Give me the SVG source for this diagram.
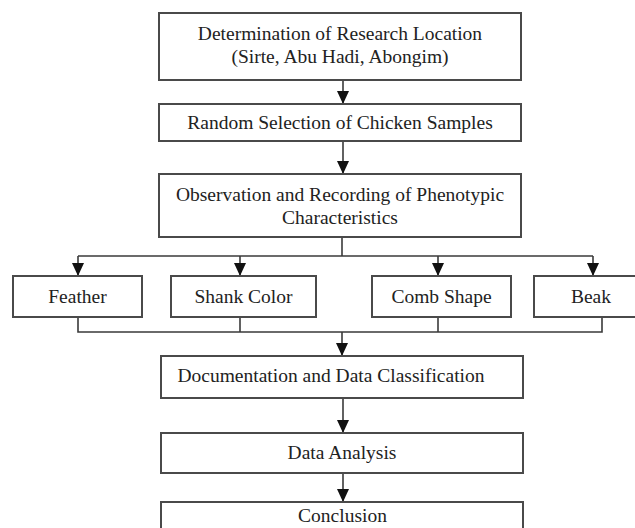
<svg xmlns="http://www.w3.org/2000/svg" width="635" height="528" viewBox="0 0 635 528">
<style>
.box{fill:#fff;stroke:#4a4a4a;stroke-width:2}
.t{font-family:"Liberation Serif","Times New Roman",serif;font-size:19.5px;fill:#222;text-anchor:middle}
.ln{fill:none;stroke:#3a3a3a;stroke-width:1.6}
.arr{marker-end:url(#ah)}
</style>
<defs>
<marker id="ah" markerUnits="userSpaceOnUse" markerWidth="13" markerHeight="12" viewBox="0 0 13 12" refX="13" refY="6" orient="auto">
<path d="M0,0 L13,6 L0,12 Z" fill="#111"/>
</marker>
</defs>
<rect width="635" height="528" fill="#fff"/>
<g id="connectors">
<line class="ln arr" x1="343" y1="80" x2="343" y2="104"/>
<line class="ln arr" x1="343" y1="141" x2="343" y2="174"/>
<line class="ln" x1="342" y1="237" x2="342" y2="256"/>
<polyline class="ln" points="78,256 593,256"/>
<line class="ln arr" x1="78" y1="256" x2="78" y2="276"/>
<line class="ln arr" x1="240" y1="256" x2="240" y2="276"/>
<line class="ln arr" x1="438" y1="256" x2="438" y2="276"/>
<line class="ln arr" x1="593" y1="256" x2="593" y2="276"/>
<polyline class="ln" points="78,317 78,332 602,332 602,317"/>
<line class="ln" x1="240" y1="317" x2="240" y2="332"/>
<line class="ln" x1="438" y1="317" x2="438" y2="332"/>
<line class="ln arr" x1="342" y1="332" x2="342" y2="356"/>
<line class="ln arr" x1="343" y1="398" x2="343" y2="433"/>
<line class="ln arr" x1="343" y1="473" x2="343" y2="502"/>
</g>
<g id="n1"><rect class="box" x="159" y="13" width="362" height="67"/>
<text class="t" x="340" y="40">Determination of Research Location</text>
<text class="t" x="340" y="63">(Sirte, Abu Hadi, Abongim)</text></g>
<g id="n2"><rect class="box" x="159" y="104" width="362" height="37"/>
<text class="t" x="340" y="129">Random Selection of Chicken Samples</text></g>
<g id="n3"><rect class="box" x="159" y="174" width="362" height="63"/>
<text class="t" x="340" y="201">Observation and Recording of Phenotypic</text>
<text class="t" x="340" y="224">Characteristics</text></g>
<g id="n4"><rect class="box" x="13" y="276" width="129" height="41"/>
<text class="t" x="77.5" y="303">Feather</text></g>
<g id="n5"><rect class="box" x="171" y="276" width="145" height="41"/>
<text class="t" x="243.5" y="303">Shank Color</text></g>
<g id="n6"><rect class="box" x="372" y="276" width="139" height="41"/>
<text class="t" x="441.5" y="303">Comb Shape</text></g>
<g id="n7"><rect class="box" x="534" y="276" width="121" height="41"/>
<text class="t" x="591" y="303">Beak</text></g>
<g id="n8"><rect class="box" x="161" y="356" width="362" height="42"/>
<text class="t" x="331" y="382">Documentation and Data Classification</text></g>
<g id="n9"><rect class="box" x="161" y="433" width="362" height="40"/>
<text class="t" x="342" y="459">Data Analysis</text></g>
<g id="n10"><rect class="box" x="161" y="502" width="362" height="40"/>
<text class="t" x="342.5" y="522">Conclusion</text></g>
</svg>
